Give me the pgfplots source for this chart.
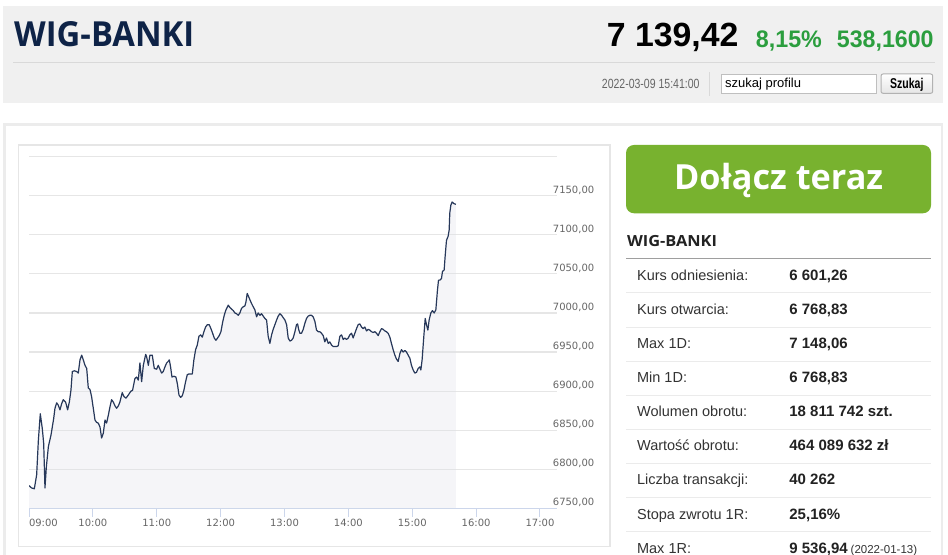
\documentclass[border=0pt]{standalone}
\usepackage{fontspec}
\usepackage{graphicx}
\usepackage{pgfplots}
\usepackage{pgfplotstable}
\pgfplotsset{compat=1.18}
\setmainfont{Liberation Sans}
\newfontfamily\osans{Open Sans}
\newfontfamily\dejavu{DejaVu Sans}
\definecolor{hdrgrey}{HTML}{F0F0F0}
\definecolor{sepgrey}{HTML}{D9D9D9}
\definecolor{navy}{HTML}{0E2347}
\definecolor{upgreen}{HTML}{2B9E3E}
\definecolor{btngreen}{HTML}{78B22F}
\definecolor{tickblue}{HTML}{CCD6EB}
\definecolor{gridgrey}{HTML}{E6E6E6}
\definecolor{linecol}{HTML}{27385A}
\definecolor{fillc}{RGB}{222,225,232}
\definecolor{labgrey}{HTML}{666666}
\definecolor{lblcol}{HTML}{333333}
\definecolor{valcol}{HTML}{222222}
\definecolor{panelgrey}{HTML}{ECECEC}
\definecolor{rowsep}{HTML}{EBEBEB}

\pgfplotstableread{
t v
0 6779
2.5 6776
5.0 6775
7.2 6793
8.8 6837
10.6 6871
12.5 6852
13.8 6833
15.0 6776
16.3 6803
18.2 6829
20.7 6844
23.2 6865
24.4 6878
26.0 6885
27.5 6882
29.1 6876
30.7 6884
32.2 6889
34.4 6886
36.3 6876
37.9 6886
39.4 6901
40.7 6925
42.6 6926
44.8 6925
46.3 6923
47.9 6940
49.5 6946
51.0 6940
52.6 6933
54.2 6929
55.7 6904
57.3 6902
58.8 6893
60.4 6878
62.0 6863
63.5 6860
65.1 6859
66.7 6854
68.2 6840
69.8 6846
71.4 6863
72.9 6859
74.5 6869
76.1 6880
77.6 6889
79.2 6886
80.8 6881
82.3 6878
83.9 6881
85.4 6886
87.6 6898
89.2 6893
91.1 6891
93.3 6895
95.8 6900
97.3 6901
99.5 6916
101.1 6918
102.7 6914
104.2 6936
105.8 6912
107.4 6933
109.6 6947
110.5 6944
112.1 6933
113.6 6946
115.8 6946
117.7 6929
119.9 6928
121.4 6933
123.0 6928
124.6 6923
126.1 6925
127.7 6931
129.3 6936
130.8 6938
131.8 6940
133.0 6931
134.3 6918
136.2 6919
138.0 6918
139.3 6910
140.9 6895
142.4 6892
144.0 6894
145.5 6901
147.1 6912
148.7 6921
150.2 6922
153.4 6922
154.9 6940
156.5 6953
158.1 6959
159.6 6970
161.2 6972
162.8 6969
164.3 6976
165.9 6982
167.5 6985
169.3 6985
170.9 6980
172.5 6974
174.0 6968
175.6 6965
177.2 6968
178.7 6971
180.3 6976
181.9 6988
183.4 6997
185.0 7004
187.2 7010
188.7 7007
190.3 7005
191.9 7003
193.4 7000
195.0 6999
196.6 6997
198.1 7000
199.7 7006
201.3 7008
202.8 7009
203.8 7014
205.0 7025
206.3 7021
207.5 7017
209.1 7012
210.6 7008
212.2 7004
213.8 6995
215.3 7000
216.9 6997
218.5 6999
220.0 6996
221.6 6993
223.2 6991
224.7 6970
226.3 6961
227.9 6972
229.4 6979
231.0 6985
232.6 6991
234.1 6996
235.7 6999
237.3 6997
238.8 6994
240.4 6991
242.0 6985
243.5 6968
245.1 6964
246.6 6965
248.2 6968
249.8 6976
251.3 6985
252.3 6986
253.5 6978
254.5 6974
256.0 6974
257.6 6979
259.2 6987
260.7 6993
262.3 6996
263.9 6997
265.4 6997
267.0 6995
268.6 6989
270.1 6978
271.7 6976
273.2 6976
274.8 6974
276.4 6971
277.9 6963
279.5 6968
281.1 6961
282.6 6963
284.2 6959
285.8 6957
287.3 6957
288.9 6957
290.5 6958
292.0 6970
293.6 6972
295.2 6966
296.7 6968
298.3 6966
299.9 6968
301.4 6972
303.0 6974
304.5 6968
306.1 6974
307.7 6980
309.2 6985
310.8 6986
312.4 6982
313.9 6980
315.5 6982
317.1 6977
318.6 6979
320.2 6978
321.8 6976
323.3 6975
324.9 6976
326.5 6974
328.0 6971
329.6 6976
331.2 6980
332.7 6979
334.3 6977
335.8 6976
337.4 6974
339.0 6969
340.5 6961
342.1 6953
343.7 6946
345.2 6941
346.8 6938
348.4 6948
349.9 6953
351.5 6950
353.1 6952
354.6 6950
356.2 6946
357.8 6942
359.3 6933
360.9 6927
362.5 6923
364.0 6924
365.6 6929
367.1 6931
368.1 6927
369.3 6940
370.9 6970
372.2 6993
373.4 6985
374.7 6978
375.9 6991
377.5 7000
379.0 7003
380.6 7000
382.2 7004
383.7 7029
384.7 7042
385.9 7042
387.5 7044
388.4 7053
390.0 7055
390.9 7072
392.2 7093
393.7 7098
394.7 7106
395.3 7128
396.3 7138
397.5 7142
399.1 7140
401.0 7139
}\wigdata

\newcommand\row[3]{%
  \node[anchor=base west, inner sep=0pt, text=lblcol, font=\fontsize{14.5bp}{17bp}\selectfont] at (636.9,#1) {#2};%
  \node[anchor=base west, inner sep=0pt, text=valcol, font=\fontsize{15bp}{18bp}\selectfont\bfseries] at (789.2,#1) {#3};}

\begin{document}
\begin{tikzpicture}[x=1bp,y=1bp]
\path[use as bounding box] (0,0) rectangle (948,555);
\clip (0,0) rectangle (948,555);
\fill[white] (0,0) rectangle (948,555);
% ---------- header ----------
\fill[hdrgrey] (3.3,451.7) rectangle (942.7,549);
\draw[sepgrey, line width=1bp] (13.3,492.3) -- (935,492.3);
\node[anchor=base west, inner sep=0pt, text=navy] at (14,508.3)
  {\resizebox{180bp}{25bp}{\osans\bfseries WIG-BANKI}};
\node[anchor=base west, inner sep=0pt, text=black] at (606.7,508.3)
  {\resizebox{131.6bp}{23.4bp}{\bfseries 7 139,42}};
\node[anchor=base west, inner sep=0pt, text=upgreen] at (755.7,507.7)
  {\resizebox{66bp}{16.7bp}{\bfseries 8,15\%}};
\node[anchor=base west, inner sep=0pt, text=upgreen] at (836.7,507.7)
  {\resizebox{96.7bp}{16.7bp}{\bfseries 538,1600}};
\node[anchor=base west, inner sep=0pt, text=labgrey] at (601.7,466.3)
  {\resizebox{97.6bp}{9.3bp}{2022-03-09 15:41:00}};
\draw[sepgrey, line width=1bp] (709.3,459) -- (709.3,483.3);
\filldraw[fill=white, draw=black!25, line width=1bp] (721.7,461.7) rectangle (876.7,480.7);
\node[anchor=base west, inner sep=0pt, text=black, font=\fontsize{13bp}{15bp}\selectfont] at (725,467.7) {szukaj profilu};
\shade[top color=white, bottom color=black!10, rounded corners=2bp] (881,461.7) rectangle (932.7,481);
\draw[black!30, line width=1bp, rounded corners=2bp] (881,461.7) rectangle (932.7,481);
\node[anchor=base west, inner sep=0pt, text=black] at (890,466.7)
  {\resizebox{33.3bp}{10.3bp}{\bfseries Szukaj}};
% ---------- panels ----------
\draw[panelgrey, line width=2.5bp] (4.5,-10) rectangle (941.8,430.5);
\draw[gridgrey, line width=1.2bp] (18.3,8.3) rectangle (610,410);
% ---------- chart ----------
\begin{axis}[
  at={(29bp,46.7bp)}, anchor=south west,
  scale only axis, width=528.3bp, height=351.6bp,
  xmin=0, xmax=496.3, ymin=6750, ymax=7200,
  axis x line*=bottom, axis y line*=right,
  x axis line style={draw=tickblue, line width=1bp},
  y axis line style={draw=none},
  xtick={0,60,...,480},
  xticklabels={\makebox[0pt][l]{09:00},10:00,11:00,12:00,13:00,14:00,15:00,16:00,17:00},
  ytick={6750,6800,...,7200},
  yticklabels={{6750,00},{6800,00},{6850,00},{6900,00},{6950,00},{7000,00},{7050,00},{7100,00},{7150,00},{}},
  tick align=outside,
  major tick length=8.4bp,
  xtick style={draw=tickblue, line width=1bp},
  ytick style={draw=none},
  ymajorgrids, major grid style={draw=gridgrey, line width=1.1bp},
  tick label style={font=\dejavu\fontsize{10bp}{12bp}\selectfont, text=labgrey, inner sep=0pt},
  xticklabel style={anchor=base, yshift=-10bp},
  yticklabel style={anchor=base west, xshift=-13bp, yshift=2.7bp},
]
\addplot[draw=none, fill=fillc, fill opacity=0.3] table[x=t,y=v]{\wigdata} \closedcycle;
\addplot[linecol, line width=1.2bp, line join=round] table[x=t,y=v]{\wigdata};
\end{axis}
% ---------- right side ----------
\fill[btngreen, rounded corners=8bp] (626,341.7) rectangle (931,410);
\node[anchor=base west, inner sep=0pt, text=white] at (673.9,365.2)
  {\resizebox{209bp}{26.3bp}{\osans\bfseries Dołącz teraz}};
\node[anchor=base west, inner sep=0pt, text=valcol] at (626.8,308)
  {\resizebox{90bp}{11.1bp}{\osans\bfseries WIG-BANKI}};
\draw[black!38, line width=1.5bp] (626,296.6) -- (931,296.6);
\foreach \yy in {262,227.95,193.9,159.85,125.8,91.75,57.7,23.65}
  \draw[rowsep, line width=1bp] (626,\yy) -- (931,\yy);
\row{274.4}{Kurs odniesienia:}{6 601,26}
\row{240.34}{Kurs otwarcia:}{6 768,83}
\row{206.28}{Max 1D:}{7 148,06}
\row{172.22}{Min 1D:}{6 768,83}
\row{138.16}{Wolumen obrotu:}{18 811 742 szt.}
\row{104.1}{Wartość obrotu:}{464 089 632 zł}
\row{70.04}{Liczba transakcji:}{40 262}
\row{35.98}{Stopa zwrotu 1R:}{25,16\%}
\row{1.92}{Max 1R:}{9 536,94}
\node[anchor=base west, inner sep=0pt, text=lblcol, font=\fontsize{11.5bp}{13bp}\selectfont] at (850.5,1.92) {(2022-01-13)};
\end{tikzpicture}
\end{document}
